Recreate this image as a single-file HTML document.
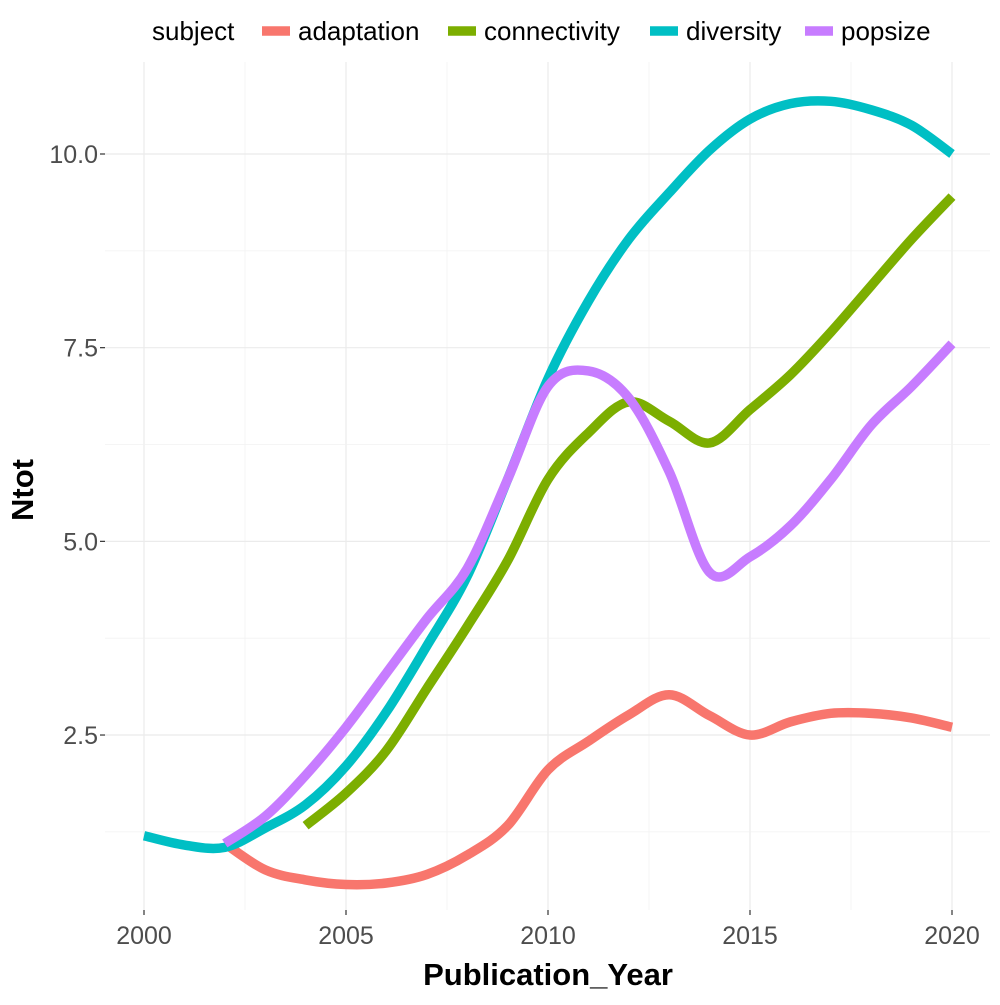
<!DOCTYPE html>
<html><head><meta charset="utf-8"><style>
body{margin:0;background:#fff;font-family:"Liberation Sans",Arial,sans-serif}
</style></head><body>
<svg id="chart" width="1000" height="1000" xmlns="http://www.w3.org/2000/svg">
<g id="grid"></g>
<g id="lines"></g>
<g id="axes"></g>
<text x="548" y="985" text-anchor="middle" font-size="31" font-weight="bold">Publication_Year</text>
<text transform="translate(33,490) rotate(-90)" text-anchor="middle" font-size="31" font-weight="bold">Ntot</text>
<g id="legend"></g>
</svg>
<script>
const years=[2000,2001,2002,2003,2004,2005,2006,2007,2008,2009,2010,2011,2012,2013,2014,2015,2016,2017,2018,2019,2020];
const seriesNames=["adaptation","connectivity","diversity","popsize"];
const seriesColors=["#F8766D","#7CAE00","#00BFC4","#C77CFF"];
const adaptation=[null,null,1.1,0.76,0.63,0.57,0.59,0.7,0.95,1.33,2.05,2.42,2.76,3.02,2.75,2.5,2.67,2.78,2.78,2.72,2.6];
const connectivity=[null,null,null,null,1.33,1.75,2.3,3.1,3.9,4.75,5.8,6.4,6.8,6.55,6.27,6.7,7.15,7.7,8.3,8.9,9.45];
const diversity=[1.2,1.08,1.05,1.3,1.6,2.1,2.8,3.65,4.55,5.8,7.1,8.1,8.9,9.5,10.05,10.45,10.65,10.68,10.57,10.37,10.0];
const popsize=[null,null,1.1,1.45,1.98,2.6,3.3,4.0,4.65,5.8,7.0,7.2,6.85,5.9,4.6,4.8,5.2,5.8,6.5,7.0,7.55];
const xTicks=[2000,2005,2010,2015,2020];
const yTicks=[2.5,5.0,7.5,10.0];
const yTickLabels=["2.5","5.0","7.5","10.0"];
const allSeries=[adaptation,connectivity,diversity,popsize];
const NS="http://www.w3.org/2000/svg";
const X=v=>144+(v-2000)*40.4;
const Y=v=>154+(10-v)*77.47;
const L=105,R=990,T=62,B=910;
function mk(tag,attrs,parent){const e=document.createElementNS(NS,tag);for(const k in attrs)e.setAttribute(k,attrs[k]);parent.appendChild(e);return e;}
const grid=document.getElementById('grid');
for(let i=0;i<xTicks.length;i++){
 const g=mk('line',{x1:X(xTicks[i]),x2:X(xTicks[i]),y1:T,y2:B,stroke:'#ebebeb','stroke-width':1.2},grid);
 
 
 if(i<xTicks.length-1){const m=(xTicks[i]+xTicks[i+1])/2;const g2=mk('line',{x1:X(m),x2:X(m),y1:T,y2:B,stroke:'#f2f2f2','stroke-width':0.8},grid);
 
 }
}
const yMinor=[1.25,3.75,6.25,8.75];
for(const v of yTicks){const g=mk('line',{x1:L,x2:R,y1:Y(v),y2:Y(v),stroke:'#ebebeb','stroke-width':1.2},grid);
 
 }
for(const v of yMinor){const g=mk('line',{x1:L,x2:R,y1:Y(v),y2:Y(v),stroke:'#f2f2f2','stroke-width':0.8},grid);
 
 }
function pathFor(arr){
 const pts=[];years.forEach((y,i)=>{if(arr[i]!=null)pts.push([X(y),Y(arr[i])]);});
 let d=`M${pts[0][0]},${pts[0][1]}`;
 for(let i=0;i<pts.length-1;i++){
  const p0=pts[i-1]||pts[i],p1=pts[i],p2=pts[i+1],p3=pts[i+2]||p2;
  const c1=[p1[0]+(p2[0]-p0[0])/6,p1[1]+(p2[1]-p0[1])/6];
  const c2=[p2[0]-(p3[0]-p1[0])/6,p2[1]-(p3[1]-p1[1])/6];
  d+=`C${c1[0]},${c1[1]} ${c2[0]},${c2[1]} ${p2[0]},${p2[1]}`;
 }
 return d;
}
const lines=document.getElementById('lines');
allSeries.forEach((s,i)=>{
 const p=mk('path',{d:pathFor(s),fill:'none',stroke:seriesColors[i],'stroke-width':9.5,'stroke-linejoin':'round'},lines);
 
 
});
const axes=document.getElementById('axes');
xTicks.forEach(v=>{
 mk('line',{x1:X(v),x2:X(v),y1:B,y2:B+5,stroke:'#333','stroke-width':1.2},axes);
 const t=mk('text',{x:X(v),y:B+34,'text-anchor':'middle','font-size':25,fill:'#4d4d4d'},axes);t.textContent=v;
 
 
});
yTicks.forEach((v,i)=>{
 mk('line',{x1:L-5,x2:L,y1:Y(v),y2:Y(v),stroke:'#333','stroke-width':1.2},axes);
 const t=mk('text',{x:L-7,y:Y(v)+9,'text-anchor':'end','font-size':25,fill:'#4d4d4d'},axes);t.textContent=yTickLabels[i];
 
 
});
const leg=document.getElementById('legend');
const lt=mk('text',{x:152,y:40,'font-size':26,fill:'#000'},leg);lt.textContent='subject';


seriesNames.forEach((n,i)=>{
 const g=mk('g',{},leg);
 
 
 const k=[262,448,650,805][i];
 mk('line',{x1:k,x2:k+28,y1:31,y2:31,stroke:seriesColors[i],'stroke-width':9.5},g);
 const t=mk('text',{x:k+36,y:40,'font-size':26,fill:'#000'},g);t.textContent=n;
});
</script>
</body></html>
